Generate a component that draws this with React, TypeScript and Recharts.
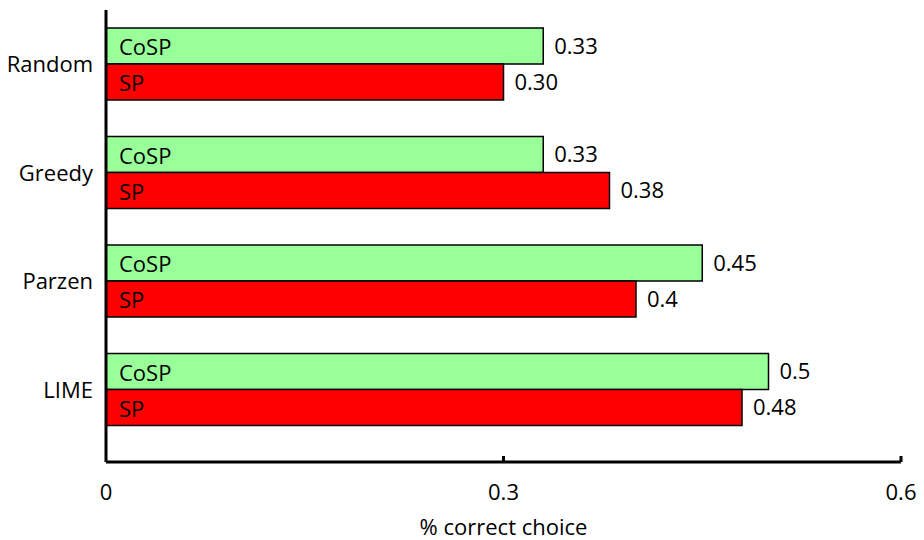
import React from 'react'
import { Bar, BarChart, LabelList, XAxis, YAxis } from 'recharts'

const methods = ['Random', 'Greedy', 'Parzen', 'LIME']
const cospValues = [0.33, 0.33, 0.45, 0.5]
const spValues = [0.3, 0.38, 0.4, 0.48]
const cospLabels = ['0.33', '0.33', '0.45', '0.5']
const spLabels = ['0.30', '0.38', '0.4', '0.48']
const xTicks = [0, 0.3, 0.6]

const FONT = '"Open Sans", Lato, sans-serif'
const FS = 22

const data = methods.map((name, i) => ({
  name,
  cosp: cospValues[i],
  sp: spValues[i],
  cospLabel: cospLabels[i],
  spLabel: spLabels[i],
}))

const XTick = (props: any) => {
  const { x, y, payload } = props
  return (
    <g>
      {payload.value !== 0 && <line x1={x} x2={x} y1={y} y2={y - 6} stroke="#000" strokeWidth={3} />}
      <text x={x} y={y + 38} textAnchor="middle" fill="#000" fontSize={FS} fontFamily={FONT}>
        {String(payload.value)}
      </text>
    </g>
  )
}

const seriesName = (label: string) => (p: any) => (
  <text
    x={p.x + 13}
    y={p.y + p.height / 2}
    dominantBaseline="central"
    fill="#000"
    fontSize={FS}
    fontFamily={FONT}
  >
    {label}
  </text>
)

export default function App() {
  return (
    <div style={{ position: 'absolute', left: 0, top: 0, background: '#fff' }}>
      <BarChart
        width={924}
        height={540}
        data={data}
        layout="vertical"
        margin={{ top: 10, right: 23, bottom: 0, left: 0 }}
        barGap={0}
        style={{ fontFamily: FONT }}
      >
        <XAxis
          type="number"
          domain={[0, 0.6]}
          ticks={xTicks}
          height={78}
          tickLine={false}
          tickSize={0}
          tickMargin={0}
          tick={<XTick />}
          axisLine={{ stroke: '#000', strokeWidth: 3 }}
          label={{
            value: '% correct choice',
            position: 'insideBottom',
            offset: 5,
            fill: '#000',
            fontSize: FS,
            fontFamily: FONT,
          }}
        />
        <YAxis
          type="category"
          dataKey="name"
          width={106}
          tickLine={false}
          tickSize={0}
          tickMargin={13}
          padding={{ top: 0, bottom: 18 }}
          axisLine={{ stroke: '#000', strokeWidth: 3 }}
          tick={{ fill: '#000', fontSize: FS, fontFamily: FONT }}
        />
        <Bar dataKey="cosp" fill="#99ff99" stroke="#000" strokeWidth={1.5} barSize={36} isAnimationActive={false}>
          <LabelList content={seriesName('CoSP')} />
          <LabelList dataKey="cospLabel" position="right" offset={11} fill="#000" fontSize={FS} fontFamily={FONT} />
        </Bar>
        <Bar dataKey="sp" fill="#ff0000" stroke="#000" strokeWidth={1.5} barSize={36} isAnimationActive={false}>
          <LabelList content={seriesName('SP')} />
          <LabelList dataKey="spLabel" position="right" offset={11} fill="#000" fontSize={FS} fontFamily={FONT} />
        </Bar>
      </BarChart>
    </div>
  )
}
